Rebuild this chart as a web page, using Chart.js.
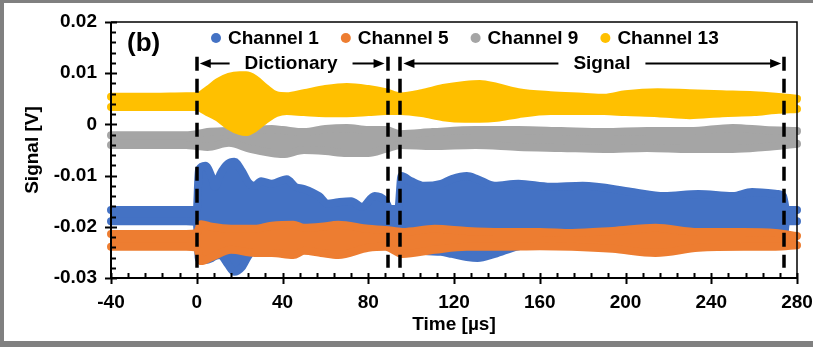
<!DOCTYPE html>
<html>
<head>
<meta charset="utf-8">
<script src="https://cdn.jsdelivr.net/npm/chart.js@4.4.1/dist/chart.umd.min.js"></script>
<style>
  html, body { margin: 0; padding: 0; background: #fff; }
  #wrap { width: 813px; height: 347px; }
</style>
</head>
<body>
<div id="wrap"><canvas id="chart" width="813" height="347"></canvas></div>
<script>
// Signal envelopes (upper / lower extent of the sampled points, in volts) per channel
const seriesNames = ['Channel 1', 'Channel 5', 'Channel 9', 'Channel 13'];
const seriesColors = ['#4472C4', '#ED7D31', '#A5A5A5', '#FFC000'];

const ch1Time  = [-40, -20, -5, 0, 1, 4, 7, 8.5, 11, 14.5, 17.5, 21, 24, 27, 30, 35, 42, 46, 50, 57, 61, 66, 72, 77, 83, 88, 90, 94, 95.5, 100, 106, 114, 119, 126, 131, 139, 150, 165, 180, 203, 218, 234, 250, 259, 271, 273.5, 275, 280];
const ch1Upper = [-0.0167, -0.0167, -0.0167, -0.0167, -0.0089, -0.0081, -0.0103, -0.0122, -0.0097, -0.0077, -0.0073, -0.0091, -0.0113, -0.0120, -0.0111, -0.0116, -0.0107, -0.0122, -0.0126, -0.0140, -0.0155, -0.0152, -0.0150, -0.0161, -0.0140, -0.0150, -0.0165, -0.0165, -0.0101, -0.0111, -0.0120, -0.0116, -0.0107, -0.0101, -0.0107, -0.0120, -0.0116, -0.0122, -0.0120, -0.0132, -0.0140, -0.0136, -0.0140, -0.0132, -0.0136, -0.0140, -0.0167, -0.0167];
const ch1Lower = [-0.0189, -0.0189, -0.0189, -0.0191, -0.0263, -0.0265, -0.0261, -0.0257, -0.0255, -0.0273, -0.0288, -0.0279, -0.0257, -0.0241, -0.0230, -0.0228, -0.0228, -0.0228, -0.0228, -0.0228, -0.0228, -0.0228, -0.0228, -0.0228, -0.0228, -0.0228, -0.0228, -0.0228, -0.0238, -0.0241, -0.0247, -0.0249, -0.0253, -0.0259, -0.0261, -0.0253, -0.0238, -0.0234, -0.0238, -0.0234, -0.0234, -0.0234, -0.0234, -0.0234, -0.0234, -0.0234, -0.0189, -0.0189];

const ch5Time  = [-40, -20, -5, 0, 2, 7, 16, 27, 35, 45, 50, 58, 66, 80, 88, 96, 111, 126, 142, 160, 175, 194, 214, 234, 255, 270, 280];
const ch5Upper = [-0.0214, -0.0214, -0.0214, -0.0212, -0.0195, -0.0200, -0.0204, -0.0204, -0.0198, -0.0196, -0.0202, -0.0200, -0.0196, -0.0204, -0.0206, -0.0210, -0.0204, -0.0208, -0.0210, -0.0210, -0.0212, -0.0208, -0.0202, -0.0210, -0.0210, -0.0212, -0.0218];
const ch5Lower = [-0.0239, -0.0239, -0.0239, -0.0241, -0.0267, -0.0259, -0.0245, -0.0251, -0.0251, -0.0255, -0.0247, -0.0251, -0.0255, -0.0241, -0.0239, -0.0253, -0.0245, -0.0239, -0.0239, -0.0238, -0.0239, -0.0243, -0.0251, -0.0241, -0.0239, -0.0239, -0.0236];

const ch9Time  = [-40, -20, -5, 0, 5, 15, 25, 35, 40, 50, 60, 70, 80, 88, 95, 110, 130, 150, 170, 190, 210, 230, 250, 265, 280];
const ch9Upper = [-0.0021, -0.0021, -0.0021, -0.0019, -0.0015, -0.0013, -0.0011, -0.0009, -0.0011, -0.0015, -0.0009, -0.0007, -0.0011, -0.0011, -0.0019, -0.0015, -0.0011, -0.0011, -0.0013, -0.0015, -0.0013, -0.0013, -0.0007, -0.0011, -0.0013];
const ch9Lower = [-0.0040, -0.0040, -0.0040, -0.0042, -0.0044, -0.0036, -0.0048, -0.0056, -0.0058, -0.0050, -0.0052, -0.0056, -0.0056, -0.0048, -0.0040, -0.0042, -0.0040, -0.0044, -0.0046, -0.0048, -0.0046, -0.0048, -0.0048, -0.0044, -0.0038];

const ch13Time  = [-40, -20, -5, 0, 5, 10, 15, 20, 23, 27, 32, 37, 42, 50, 60, 70, 80, 88, 95, 105, 115, 125, 132, 140, 150, 165, 180, 190, 200, 215, 230, 245, 260, 270, 280];
const ch13Upper = [0.0054, 0.0054, 0.0055, 0.0055, 0.0067, 0.0083, 0.0093, 0.0096, 0.0096, 0.0089, 0.0071, 0.0057, 0.0055, 0.0061, 0.0069, 0.0073, 0.0069, 0.0063, 0.0055, 0.0061, 0.0071, 0.0077, 0.0079, 0.0073, 0.0063, 0.0057, 0.0054, 0.0052, 0.0059, 0.0063, 0.0061, 0.0059, 0.0057, 0.0054, 0.0050];
const ch13Lower = [0.0034, 0.0034, 0.0034, 0.0034, 0.0024, 0.0013, -0.0003, -0.0013, -0.0015, -0.0007, 0.0009, 0.0022, 0.0026, 0.0024, 0.0022, 0.0022, 0.0024, 0.0026, 0.0026, 0.0022, 0.0014, 0.0011, 0.0011, 0.0013, 0.0020, 0.0026, 0.0026, 0.0026, 0.0024, 0.0022, 0.0018, 0.0022, 0.0024, 0.0028, 0.0030];

// Axis ranges and tick steps
const xRange = [-40, 280];
const xStep = 40;
const xMinorStep = 8;
const yRange = [-0.03, 0.02];
const yStep = 0.01;
const yMinorStep = 0.002;

// Window boundaries (µs) and the two labelled regions
const boundaryTimes = [0, 89, 95, 274];
const boundarySpan = [0.0132, -0.028];
const regionLabels = ['Dictionary', 'Signal'];
const regionFrom = [0, 95];
const regionTo = [89, 274];
const regionLabelAt = [44, 189];
const regionLevel = 0.0119;

const panelTag = '(b)';
const FAMILY = 'Arial, "Liberation Sans", sans-serif';

const channels = [
  { t: ch1Time, hi: ch1Upper, lo: ch1Lower },
  { t: ch5Time, hi: ch5Upper, lo: ch5Lower },
  { t: ch9Time, hi: ch9Upper, lo: ch9Lower },
  { t: ch13Time, hi: ch13Upper, lo: ch13Lower }
];

const datasets = [];
channels.forEach((ch, k) => {
  const common = {
    borderColor: seriesColors[k],
    backgroundColor: seriesColors[k],
    borderWidth: 8,
    pointRadius: 0,
    pointHoverRadius: 0,
    cubicInterpolationMode: 'monotone',
    borderCapStyle: 'round',
    borderJoinStyle: 'round',
    clip: false,
    order: channels.length - k   // later channels are painted above earlier ones
  };
  datasets.push(Object.assign({}, common, {
    label: seriesNames[k],
    data: ch.t.map((t, i) => ({ x: t, y: ch.hi[i] })),
    fill: false
  }));
  datasets.push(Object.assign({}, common, {
    label: seriesNames[k] + ' (lower)',
    data: ch.t.map((t, i) => ({ x: t, y: ch.lo[i] })),
    fill: '-1'
  }));
});

// White page with the grey frame
const framePlugin = {
  id: 'frame',
  beforeDraw(chart) {
    const c = chart.ctx;
    c.save();
    c.fillStyle = '#ffffff';
    c.fillRect(0, 0, chart.width, chart.height);
    c.restore();
  },
  afterDraw(chart) {
    const c = chart.ctx;
    c.save();
    c.fillStyle = '#808080';
    c.fillRect(0, 0, chart.width, 3);
    c.fillRect(0, 0, 4, chart.height);
    c.fillRect(0, chart.height - 6, chart.width, 6);
    c.restore();
  }
};

// Plot box, axis lines and cross / inside tick marks
const axesPlugin = {
  id: 'axesBox',
  afterDatasetsDraw(chart) {
    const c = chart.ctx;
    const { left, right, top, bottom } = chart.chartArea;
    const xs = chart.scales.x, ys = chart.scales.y;
    c.save();
    c.strokeStyle = '#000';
    c.lineWidth = 1.5;
    c.beginPath();
    c.moveTo(left, top); c.lineTo(right, top); c.lineTo(right, bottom);
    c.stroke();
    c.lineWidth = 2;
    c.beginPath();
    c.moveTo(left, top); c.lineTo(left, bottom); c.lineTo(right, bottom);
    c.stroke();

    const nY = Math.round((yRange[1] - yRange[0]) / yMinorStep);
    const perY = Math.round(yStep / yMinorStep);
    c.lineWidth = 2;
    for (let i = 0; i <= nY; i++) {
      const py = Math.round(ys.getPixelForValue(yRange[0] + i * yMinorStep)) + 0.5;
      c.beginPath();
      if (i % perY === 0) { c.moveTo(left - 6, py); c.lineTo(left + 6, py); }
      else { c.moveTo(left, py); c.lineTo(left + 5, py); }
      c.stroke();
    }
    const nX = Math.round((xRange[1] - xRange[0]) / xMinorStep);
    const perX = Math.round(xStep / xMinorStep);
    for (let i = 0; i <= nX; i++) {
      const px = Math.round(xs.getPixelForValue(xRange[0] + i * xMinorStep)) + 0.5;
      c.beginPath();
      if (i % perX === 0) { c.moveTo(px, bottom - 5); c.lineTo(px, bottom + 6); }
      else { c.moveTo(px, bottom - 5); c.lineTo(px, bottom); }
      c.stroke();
    }
    c.restore();
  }
};

function drawArrow(c, from, to, yy) {
  const dir = Math.sign(to - from);
  c.lineWidth = 2;
  c.beginPath();
  c.moveTo(from, yy);
  c.lineTo(to - dir * 8, yy);
  c.stroke();
  c.beginPath();
  c.moveTo(to, yy);
  c.lineTo(to - dir * 11, yy - 4.5);
  c.lineTo(to - dir * 11, yy + 4.5);
  c.closePath();
  c.fill();
}

// Dashed window boundaries, region arrows, legend and panel tag
const notesPlugin = {
  id: 'notes',
  afterDatasetsDraw(chart) {
    const c = chart.ctx;
    const xs = chart.scales.x, ys = chart.scales.y;
    c.save();
    c.strokeStyle = '#000';
    c.fillStyle = '#000';

    c.lineWidth = 3.5;
    c.setLineDash([14, 8]);
    const y0 = ys.getPixelForValue(boundarySpan[0]);
    const y1 = ys.getPixelForValue(boundarySpan[1]);
    boundaryTimes.forEach(t => {
      const px = Math.round(xs.getPixelForValue(t));
      c.beginPath();
      c.moveTo(px, y0);
      c.lineTo(px, y1);
      c.stroke();
    });
    c.setLineDash([]);

    c.font = 'bold 19px ' + FAMILY;
    c.textAlign = 'center';
    c.textBaseline = 'middle';
    const yy = ys.getPixelForValue(regionLevel);
    regionLabels.forEach((label, i) => {
      const xc = xs.getPixelForValue(regionLabelAt[i]);
      const w = c.measureText(label).width;
      c.fillText(label, xc, yy);
      drawArrow(c, xc - w / 2 - 15, xs.getPixelForValue(regionFrom[i]) + 3, yy);
      drawArrow(c, xc + w / 2 + 15, xs.getPixelForValue(regionTo[i]) - 3, yy);
    });

    // legend row
    c.textAlign = 'left';
    let lx = 216;
    const ly = 38;
    seriesNames.forEach((name, k) => {
      c.fillStyle = seriesColors[k];
      c.beginPath();
      c.arc(lx, ly, 5, 0, Math.PI * 2);
      c.fill();
      c.fillStyle = '#000';
      c.fillText(name, lx + 12, ly + 1);
      lx += 12 + c.measureText(name).width + 27;
    });

    c.font = 'bold 26px ' + FAMILY;
    c.fillText(panelTag, 127, 44);
    c.restore();
  }
};

const tickFont = { family: FAMILY, size: 19, weight: 'bold' };

new Chart(document.getElementById('chart'), {
  type: 'line',
  data: { datasets },
  options: {
    responsive: false,
    animation: false,
    devicePixelRatio: 1,
    events: [],
    layout: { padding: { top: 22, right: 16, left: 0, bottom: 0 } },
    plugins: { legend: { display: false }, tooltip: { enabled: false } },
    scales: {
      x: {
        type: 'linear',
        min: xRange[0],
        max: xRange[1],
        grid: { display: false, drawTicks: false },
        border: { display: false },
        ticks: {
          stepSize: xStep,
          autoSkip: false,
          maxRotation: 0,
          padding: 13,
          color: '#000',
          font: tickFont,
          callback: v => String(Math.round(v))
        },
        title: { display: true, text: 'Time [µs]', color: '#000', font: tickFont, padding: { top: 0, bottom: 11 } },
        afterFit: s => { s.height = 69; s.paddingLeft = 0; s.paddingRight = 0; }
      },
      y: {
        type: 'linear',
        min: yRange[0],
        max: yRange[1],
        grid: { display: false, drawTicks: false },
        border: { display: false },
        ticks: {
          stepSize: yStep,
          autoSkip: false,
          padding: 14,
          color: '#000',
          font: tickFont,
          callback: v => {
            const r = Math.round(v * 100) / 100;
            return r === 0 ? '0' : r.toFixed(2);
          }
        },
        title: { display: true, text: 'Signal [V]', color: '#000', font: tickFont, padding: { top: 21, bottom: 0 } },
        afterFit: s => { s.width = 111; s.paddingTop = 0; s.paddingBottom = 0; }
      }
    }
  },
  plugins: [framePlugin, axesPlugin, notesPlugin]
});
</script>
</body>
</html>
